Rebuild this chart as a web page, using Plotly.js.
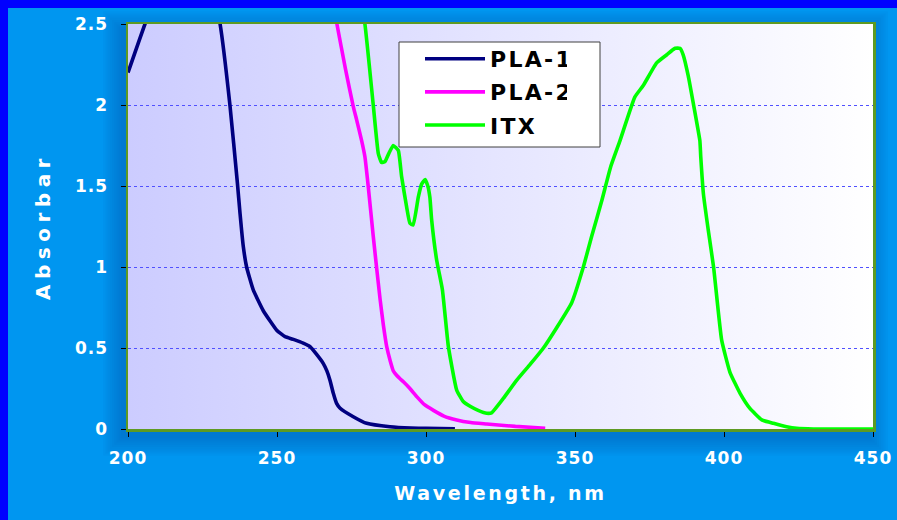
<!DOCTYPE html>
<html>
<head>
<meta charset="utf-8">
<script src="https://cdn.plot.ly/plotly-3.0.1.min.js"></script>
<style>
  html, body { margin: 0; padding: 0; background: #0096F0; }
  #chart { width: 897px; height: 520px; }
  #chart .xtitle { letter-spacing: 2.7px; }
  #chart .ytitle { letter-spacing: 5.5px; }
  #chart .xtick text, #chart .ytick text { letter-spacing: 1px; }
  #chart .legendtext { letter-spacing: 2.3px; }
</style>
</head>
<body>
<div id="chart"></div>
<script>
// ---- data ----
const seriesNames = ['PLA-1', 'PLA-2', 'ITX'];

const wlPLA1 = [200, 205.7, 210, 220, 228, 230.9, 234.2, 236.7, 237.6, 238.7, 239.8, 242.0, 245.4, 249.9, 252.7, 255.5, 258.8, 261.1, 263.3, 265.5, 266.7, 267.8, 268.9, 270, 271.1, 275.6, 280.1, 287.9, 295, 300, 309.7];
const absPLA1 = [2.2, 2.5, 2.7, 2.9, 2.75, 2.5, 2.0, 1.52, 1.33, 1.125, 1.0, 0.86, 0.73, 0.61, 0.57, 0.553, 0.53, 0.508, 0.46, 0.405, 0.36, 0.30, 0.22, 0.158, 0.13, 0.076, 0.035, 0.014, 0.006, 0.004, 0.002];

const wlPLA2 = [265, 270.1, 273, 275.6, 276.7, 278.4, 279.5, 280.6, 282.3, 283.4, 284.6, 285.7, 286.8, 288, 289.0, 290.2, 291.3, 292.5, 294.6, 296.9, 299.5, 302.5, 306, 310.3, 315, 320.4, 330, 340];
const absPLA2 = [3.0, 2.5, 2.22, 1.99, 1.91, 1.78, 1.68, 1.50, 1.19, 1.0, 0.80, 0.64, 0.51, 0.42, 0.36, 0.33, 0.31, 0.29, 0.25, 0.20, 0.15, 0.115, 0.08, 0.056, 0.04, 0.031, 0.016, 0.005];

const wlITX = [275, 279.5, 282.3, 284.0, 285.1, 286.2, 287.5, 289.0, 290.7, 291.8, 293.5, 294.6, 295.7, 297.4, 298.5, 299.7, 300.6, 301.3, 301.9, 303.6, 305.5, 307.5, 310.3, 312.5, 314.8, 317.5, 320.4, 322, 326, 330.4, 335, 339.4, 344, 348.9, 352.8, 355.6, 359, 362, 365.1, 370.1, 372.9, 377.4, 380.8, 383.6, 385.2, 386.3, 388.0, 389.7, 391.9, 392.2, 393.1, 394.7, 396.5, 399.2, 402, 405.4, 408.7, 412.7, 416.6, 421, 424.4, 430, 440, 450];
const absITX = [3.0, 2.5, 2.0, 1.70, 1.645, 1.65, 1.70, 1.75, 1.72, 1.56, 1.37, 1.27, 1.26, 1.43, 1.51, 1.54, 1.50, 1.43, 1.29, 1.04, 0.86, 0.51, 0.24, 0.17, 0.14, 0.115, 0.097, 0.10, 0.19, 0.30, 0.40, 0.50, 0.63, 0.78, 1.0, 1.19, 1.41, 1.62, 1.78, 2.05, 2.12, 2.26, 2.31, 2.35, 2.35, 2.31, 2.18, 2.01, 1.78, 1.68, 1.45, 1.23, 1.0, 0.55, 0.35, 0.22, 0.127, 0.056, 0.035, 0.014, 0.004, 0, 0, 0];

const xTickVals = [200, 250, 300, 350, 400, 450];
const xTickText = ['200', '250', '300', '350', '400', '450'];
const yTickVals = [0, 0.5, 1, 1.5, 2, 2.5];
const yTickText = ['0', '0.5', '1', '1.5', '2', '2.5'];

const xTitle = 'Wavelength, nm';
const yTitle = 'Absorbar';

// ---- styling ----
const colors = ['#000080', '#FF00FF', '#00FF00'];
const FONT = 'DejaVu Sans, Verdana, sans-serif';

const W = 897, H = 520;
const M = { l: 128, r: 24, t: 24, b: 91 };
const PW = W - M.l - M.r, PH = H - M.t - M.b;
const px = v => v / PW, py = v => v / PH;
// pixel position in the page -> paper coordinates
const pxAbs = v => (v - M.l) / PW, pyAbs = v => 1 - (v - M.t) / PH;

const xs = [wlPLA1, wlPLA2, wlITX];
const ys = [absPLA1, absPLA2, absITX];
const traces = seriesNames.map((n, i) => ({
  type: 'scatter', mode: 'lines', name: n,
  x: xs[i], y: ys[i],
  line: { color: colors[i], width: 3.6, shape: 'spline', smoothing: 0.4 },
  legendgroup: 'g' + i,
  hoverinfo: 'x+y+name'
}));

// outer blue border + soft shadow behind plot area
const shapes = [
  { type: 'rect', xref: 'paper', yref: 'paper', layer: 'below',
    x0: px(-M.l), x1: px(8 - M.l), y0: py(-M.b), y1: 1 + py(M.t),
    fillcolor: '#0000FF', line: { width: 0 } },
  { type: 'rect', xref: 'paper', yref: 'paper', layer: 'below',
    x0: px(-M.l), x1: 1 + px(M.r), y0: 1 + py(M.t - 8), y1: 1 + py(M.t),
    fillcolor: '#0000FF', line: { width: 0 } }
];
for (let i = 1; i <= 9; i++) {
  const s = i * 2.2;
  shapes.push({ type: 'rect', xref: 'paper', yref: 'paper', layer: 'below',
    x0: px(-5 - s), x1: 1 + px(-5 + s), y0: py(-7 - s), y1: 1 + py(-7 + s),
    fillcolor: 'rgba(0,50,130,0.035)', line: { width: 0 } });
}
// legend frame
shapes.push({ type: 'rect', xref: 'paper', yref: 'paper', layer: 'above',
  x0: pxAbs(399), x1: pxAbs(600), y0: pyAbs(147), y1: pyAbs(42),
  fillcolor: '#FFFFFF', line: { color: '#404040', width: 1 } });

const gradSvg = "<svg xmlns='http://www.w3.org/2000/svg' width='200' height='100' viewBox='0 0 200 100' preserveAspectRatio='none'>" +
  "<defs><linearGradient id='g' x1='0' x2='1' y1='0' y2='0'>" +
  "<stop offset='0' stop-color='#CCCCFF'/><stop offset='1' stop-color='#FFFFFF'/>" +
  "</linearGradient></defs><rect width='200' height='100' fill='url(#g)'/></svg>";

const layout = {
  width: W, height: H,
  margin: M,
  paper_bgcolor: '#0096F0',
  plot_bgcolor: 'rgba(0,0,0,0)',
  showlegend: true,
  legend: {
    x: pxAbs(420), y: pyAbs(38), xanchor: 'left', yanchor: 'top',
    bgcolor: 'rgba(0,0,0,0)', borderwidth: 0,
    font: { family: FONT, size: 22, color: '#000000', weight: 'bold' },
    traceorder: 'grouped', tracegroupgap: 1.5, itemwidth: 60
  },
  images: [{
    source: 'data:image/svg+xml;charset=utf-8,' + encodeURIComponent(gradSvg),
    xref: 'x', yref: 'y', x: 200, y: 2.5, sizex: 250, sizey: 2.5,
    sizing: 'stretch', xanchor: 'left', yanchor: 'top', layer: 'below'
  }],
  shapes: shapes,
  xaxis: {
    range: [200, 450], tickmode: 'array', tickvals: xTickVals, ticktext: xTickText,
    ticks: 'outside', ticklen: 5, tickwidth: 1, tickcolor: '#000000',
    ticklabelstandoff: 7,
    showline: true, linecolor: '#5E9A22', linewidth: 2.5, mirror: true,
    showgrid: false, zeroline: false,
    tickfont: { family: FONT, size: 17, color: '#FFFFFF', weight: 'bold' },
    title: { text: xTitle, standoff: 20,
      font: { family: FONT, size: 19, color: '#FFFFFF', weight: 'bold' } }
  },
  yaxis: {
    range: [0, 2.5], tickmode: 'array', tickvals: yTickVals, ticktext: yTickText,
    ticks: 'outside', ticklen: 5, tickwidth: 1, tickcolor: '#000000',
    ticklabelstandoff: 9,
    showline: true, linecolor: '#5E9A22', linewidth: 2.5, mirror: true,
    showgrid: true, gridcolor: '#5050FF', gridwidth: 1, griddash: 'dot',
    zeroline: false,
    tickfont: { family: FONT, size: 17, color: '#FFFFFF', weight: 'bold' },
    title: { text: yTitle, standoff: 22,
      font: { family: FONT, size: 20, color: '#FFFFFF', weight: 'bold' } }
  }
};

Plotly.newPlot('chart', traces, layout, { displayModeBar: false, staticPlot: true });
</script>
</body>
</html>
